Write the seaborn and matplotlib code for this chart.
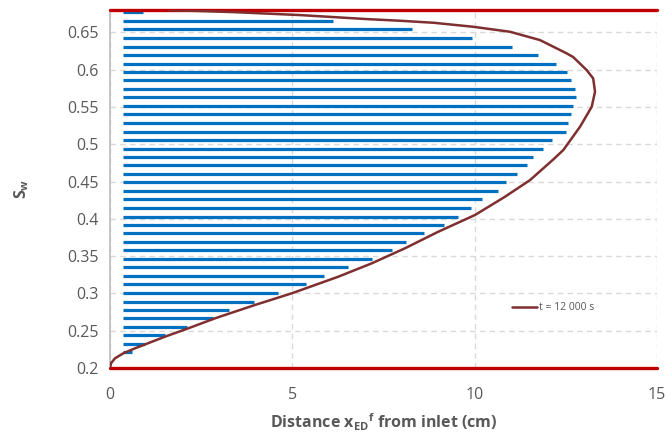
import numpy as np
import pandas as pd
import matplotlib
matplotlib.use("Agg")
import matplotlib.pyplot as plt
import seaborn as sns

# ---- data ----
# horizontal hatch bars (Sw level, start and end distance in cm)
bar_sw = [0.221, 0.232, 0.244, 0.255, 0.267, 0.278, 0.289, 0.301, 0.312, 0.324,
          0.335, 0.346, 0.358, 0.369, 0.381, 0.392, 0.403, 0.415, 0.426, 0.437,
          0.449, 0.460, 0.472, 0.483, 0.494, 0.506, 0.517, 0.529, 0.540, 0.551,
          0.563, 0.574, 0.586, 0.597, 0.608, 0.620, 0.631, 0.643, 0.654, 0.665,
          0.677]
bar_end = [0.60, 0.96, 1.51, 2.10, 2.83, 3.27, 3.96, 4.60, 5.37, 5.87,
           6.52, 7.18, 7.74, 8.13, 8.62, 9.17, 9.55, 9.89, 10.19, 10.63,
           10.86, 11.16, 11.43, 11.60, 11.87, 12.12, 12.50, 12.56, 12.64, 12.70,
           12.78, 12.75, 12.64, 12.53, 12.23, 11.74, 11.02, 9.93, 8.28, 6.11,
           0.90]
bar_start = 0.35

# curve t = 12 000 s
curve_x = [0.00, 0.03, 0.137, 0.365, 0.686, 1.508, 2.147, 2.879, 3.976, 4.982,
           6.260, 7.176, 8.089, 9.002, 10.008, 10.831, 11.52, 12.16, 12.43,
           12.89, 13.21, 13.30, 13.25, 13.07, 12.70, 12.52, 11.79, 10.97,
           9.96, 8.87, 7.95, 7.05, 5.21, 3.37, 1.60]
curve_sw = [0.200, 0.2065, 0.2130, 0.2197, 0.2264, 0.2420, 0.2532, 0.2666,
            0.2845, 0.3001, 0.3224, 0.3403, 0.3605, 0.3827, 0.4051, 0.4296,
            0.452, 0.4798, 0.4922, 0.5235, 0.5503, 0.5704, 0.5883, 0.5995,
            0.617, 0.6219, 0.6397, 0.6508, 0.6575, 0.6629, 0.6656, 0.6678,
            0.6732, 0.6772, 0.680]
series_label = "t = 12 000 s"

sw_levels = [0.2, 0.68]          # red boundary lines
x_ticks = [0, 5, 10, 15]
y_ticks = [0.2, 0.25, 0.3, 0.35, 0.4, 0.45, 0.5, 0.55, 0.6, 0.65]
y_tick_labels = ["0.2", "0.25", "0.3", "0.35", "0.4", "0.45", "0.5", "0.55", "0.6", "0.65"]

# ---- style ----
sns.set_style("white")
plt.rcParams["font.family"] = ["Open Sans", "DejaVu Sans"]
plt.rcParams["mathtext.fontset"] = "custom"
plt.rcParams["mathtext.rm"] = "Open Sans"
plt.rcParams["mathtext.bf"] = "Open Sans:bold"
plt.rcParams["mathtext.it"] = "Open Sans:italic"

grey_txt = "#595959"
fig = plt.figure(figsize=(6.66, 4.34), dpi=100)
ax = fig.add_axes([110/666, (434-368)/434, (657-110)/666, (368-10)/434])

# grid
ax.set_xlim(0, 15)
ax.set_ylim(sw_levels[0], sw_levels[1])
ax.set_xticks(x_ticks)
ax.set_yticks(y_ticks)
ax.set_yticklabels(y_tick_labels)
ax.grid(True, color="#d9d9d9", linestyle=(0, (4, 3)), linewidth=1.0)
ax.set_axisbelow(True)

# hatch bars
ax.hlines(bar_sw, bar_start, bar_end, color="#0070C0", linewidth=2.3, zorder=2)

# boundary lines
for lvl in sw_levels:
    ax.axhline(lvl, color="#C00000", linewidth=2.4, zorder=3, clip_on=False)

# curve
df = pd.DataFrame({"x": curve_x, "sw": curve_sw, "series": series_label})
sns.lineplot(data=df, x="x", y="sw", hue="series", palette=["#7F2F2F"],
             sort=False, estimator=None, linewidth=1.8, ax=ax, zorder=4)
for ln in ax.get_lines():
    ln.set_solid_joinstyle("round")

leg = ax.legend(loc="center", bbox_to_anchor=(0.81, 0.168), frameon=False,
                fontsize=7.5, handlelength=2.4, handletextpad=0.2)
for t in leg.get_texts():
    t.set_color(grey_txt)

# spines
for s in ["top", "right", "bottom"]:
    ax.spines[s].set_visible(False)
ax.spines["left"].set_color("#bfbfbf")
ax.spines["left"].set_linewidth(1.3)

ax.tick_params(axis="both", length=0, labelsize=11.5, labelcolor=grey_txt)
ax.tick_params(axis="x", pad=14)
ax.tick_params(axis="y", pad=8)

ax.set_xlabel(r"Distance x$_{\mathbf{ED}}$$^{\mathbf{f}}$ from inlet (cm)",
              fontsize=11.5, fontweight="bold", color=grey_txt, labelpad=6)
ax.set_ylabel(r"S$_{\mathbf{w}}$", fontsize=11.5, fontweight="bold",
              color=grey_txt, labelpad=26)

fig.savefig("out.png", dpi=100)
